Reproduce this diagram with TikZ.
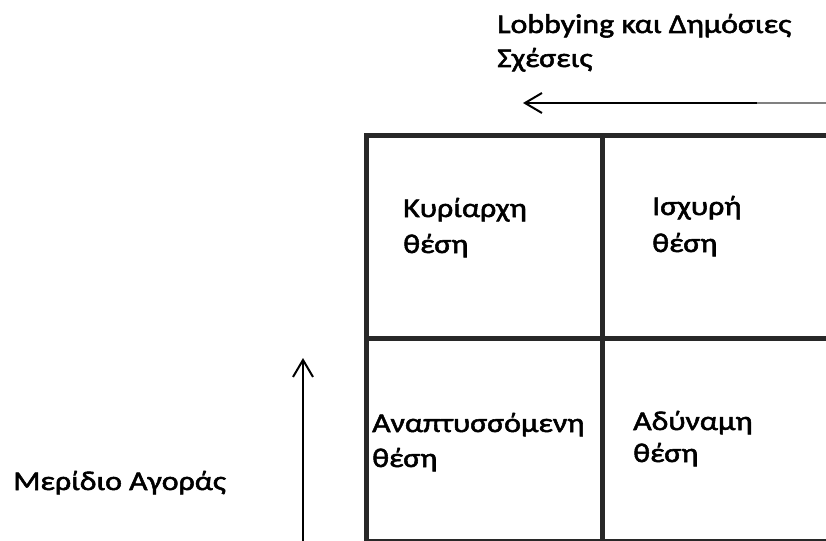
\documentclass[tikz,border=0pt]{standalone}
\usepackage{fontspec}
\setmainfont{Carlito}[FakeStretch=1.18,FakeBold=2]
\usetikzlibrary{arrows.meta}
\tikzset{
  lbl/.style={anchor=base west,inner sep=0pt,font=\fontsize{27}{32}\selectfont},
  gridline/.style={line width=5pt,draw={rgb,255:red,40;green,40;blue,40}},
  arr/.style={line width=2pt,-{Straight Barb[length=17pt,width=20pt,line width=2pt]}},
  grayline/.style={line width=2pt,draw={rgb,255:red,128;green,128;blue,128}}
}
\begin{document}
\begin{tikzpicture}[x=1pt,y=-1pt]
\useasboundingbox (0,0) rectangle (826,540);
\clip (0,0) rectangle (826,540);
% grid
\draw[gridline] (366,135.5) rectangle (845,541.5);
\draw[gridline] (602.5,135.5) -- (602.5,541.5);
\draw[gridline] (366,338.5) -- (845,338.5);
% top label and arrow
\node[lbl] (t1) at (497,33) {Lobbying και Δημόσιες};
\node[lbl] (t2) at (497,67) {Σχέσεις};
\coordinate (hs) at (826,103);
\coordinate (hm) at (757,103);
\coordinate (he) at (523,103);
\draw[grayline] (hs) -- (hm);
\draw[arr] (hm) -- (he);
% vertical arrow and label
\coordinate (vs) at (303,545);
\coordinate (ve) at (303,358);
\draw[arr] (vs) -- (ve);
\node[lbl] (m) at (13,490) {Μερίδιο Αγοράς};
% cells
\node[lbl] (c1a) at (403,217) {Κυρίαρχη};
\node[lbl] (c1b) at (403,253) {θέση};
\node[lbl] (c2a) at (652,215) {Ισχυρή};
\node[lbl] (c2b) at (652,252) {θέση};
\node[lbl] (c3a) at (372,432) {Αναπτυσσόμενη};
\node[lbl] (c3b) at (372,467) {θέση};
\node[lbl] (c4a) at (633,430) {Αδύναμη};
\node[lbl] (c4b) at (633,462) {θέση};
\end{tikzpicture}
\end{document}
